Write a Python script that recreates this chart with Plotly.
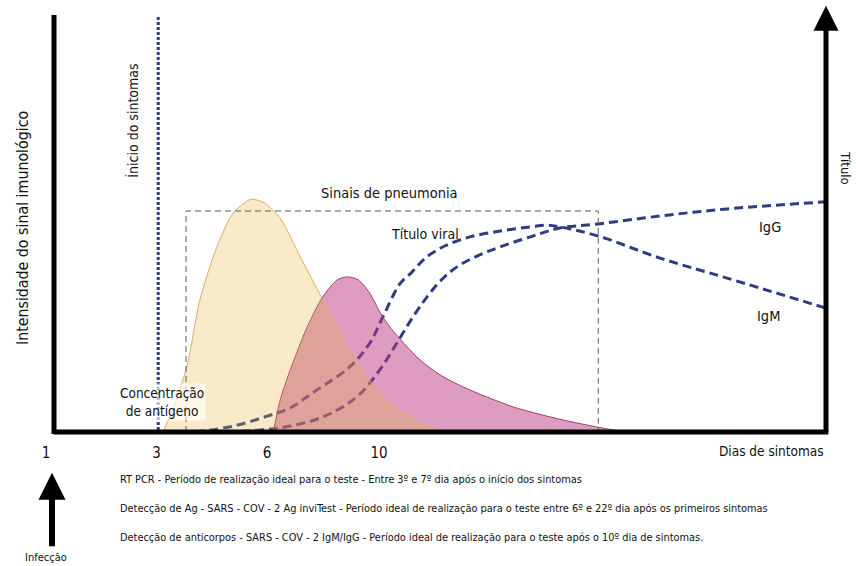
import plotly.graph_objects as go

# ---------------- data (schematic units: x = position along time axis 0..100, y = signal 0..100)
dias_labels = ["1", "3", "6", "10"]

# yellow curve (antigen concentration)
amarela_x = [14.1, 15.3, 17.2, 18.9, 21.1, 23.2, 25.5, 27.3, 29.3, 31.9, 34.7, 38.0, 40.5, 43.5, 47.4, 50.9]
amarela_y = [0.0, 5.0, 15.6, 31.7, 44.4, 52.5, 55.8, 54.9, 51.3, 42.0, 32.1, 20.4, 13.2, 7.0, 2.2, 0.0]

# pink curve (viral title)
rosa_x = [28.4, 29.3, 30.6, 32.8, 34.8, 36.7, 38.0, 39.4, 40.9, 42.2, 43.5, 45.5, 47.4, 50.0, 53.0, 59.5, 65.9, 72.4, 74.6]
rosa_y = [0.0, 7.7, 14.9, 25.2, 32.4, 36.5, 37.2, 36.5, 33.3, 28.8, 25.2, 20.9, 17.3, 13.7, 10.8, 6.0, 2.9, 0.5, 0.0]

# antibody curves
igm_x = [18.3, 23.2, 27.6, 30.6, 33.5, 38.3, 40.9, 42.6, 44.8, 46.4, 48.1, 50.6, 53.9, 57.8, 61.7, 63.9, 65.5, 70.5, 78.5, 87.2, 100.0]
igm_y = [0.0, 1.4, 3.8, 5.8, 9.4, 15.6, 21.3, 27.6, 35.5, 38.4, 41.7, 44.6, 46.8, 48.2, 49.2, 49.6, 49.2, 47.0, 41.7, 36.9, 29.7]
igg_x = [22.4, 26.7, 29.3, 34.8, 39.2, 42.2, 44.4, 46.5, 48.4, 50.3, 52.2, 54.8, 57.8, 61.7, 65.5, 70.5, 78.5, 87.2, 100.0]
igg_y = [0.0, 0.5, 1.0, 3.6, 8.4, 14.9, 21.3, 27.6, 32.6, 36.7, 39.6, 42.2, 44.4, 46.8, 48.9, 49.9, 51.8, 53.5, 55.2]

inicio_sintomas_x = 13.5
pneumonia_box = {"x0": 17.1, "x1": 70.5, "y_top": 53.0}

textos_rodape = [
    "RT PCR - Período de realização ideal para o teste - Entre 3º e 7º dia após o início dos sintomas",
    "Detecção de Ag - SARS - COV - 2 Ag inviTest - Período ideal de realização para o teste entre 6º e 22º dia após os primeiros sintomas",
    "Detecção de anticorpos - SARS - COV - 2 IgM/IgG - Período ideal de realização para o teste após o 10º dia de sintomas.",
]

# ---------------- figure
FONT = "DejaVu Sans Condensed, Liberation Sans Narrow, Liberation Sans, sans-serif"
NAVY = "#2e3d82"
XR = [-1.813, 100.518]
YR = [-0.959, 102.4]


def paper(u, v):
    return (u - XR[0]) / (XR[1] - XR[0]), (v - YR[0]) / (YR[1] - YR[0])


fig = go.Figure()

for xs, ys in [(igm_x, igm_y), (igg_x, igg_y)]:
    fig.add_trace(go.Scatter(x=xs, y=ys, mode="lines",
                             line=dict(color=NAVY, width=3, dash="9px,5px", shape="spline", smoothing=1.0),
                             hoverinfo="skip", showlegend=False))

fig.add_trace(go.Scatter(x=[inicio_sintomas_x, inicio_sintomas_x], y=[0.5, 100], mode="lines",
                         line=dict(color="#2d3b85", width=3, dash="3px,2px"), hoverinfo="skip", showlegend=False))

fig.add_trace(go.Scatter(x=rosa_x, y=rosa_y, mode="lines", fill="tozeroy", fillcolor="rgba(187,57,129,0.5)",
                         line=dict(color="#9c3f66", width=1, shape="spline", smoothing=0.7),
                         hoverinfo="skip", showlegend=False))
fig.add_trace(go.Scatter(x=amarela_x, y=amarela_y, mode="lines", fill="tozeroy", fillcolor="rgba(230,180,59,0.28)",
                         line=dict(color="#d8b063", width=1, shape="spline", smoothing=0.7),
                         hoverinfo="skip", showlegend=False))

# dashed box "Sinais de pneumonia"
fig.add_trace(go.Scatter(x=[pneumonia_box["x0"], pneumonia_box["x0"], pneumonia_box["x1"], pneumonia_box["x1"]],
                         y=[0, pneumonia_box["y_top"], pneumonia_box["y_top"], 0], mode="lines",
                         line=dict(color="#555a70", width=1, dash="6px,4px"), hoverinfo="skip", showlegend=False))

# axes lines
fig.add_shape(type="line", x0=0, x1=100.3, y0=0, y1=0, xref="x", yref="y",
              line=dict(color="black", width=5), layer="above")
fig.add_shape(type="line", x0=0, x1=0, y0=-0.5, y1=100, xref="x", yref="y",
              line=dict(color="black", width=5), layer="above")

annotations = []
# right axis arrow
annotations.append(dict(x=100, y=102.2, ax=100, ay=-0.5, xref="x", yref="y", axref="x", ayref="y",
                        showarrow=True, arrowhead=2, arrowsize=1.0, arrowwidth=5, arrowcolor="black", text=""))
# infection arrow
px_, py_ = paper(-0.26, -9.8)
annotations.append(dict(x=px_, y=py_, ax=0, ay=75, xref="paper", yref="paper",
                        showarrow=True, arrowhead=2, arrowsize=0.9, arrowwidth=6, arrowcolor="black", text=""))


def txt(text, u, v, size, angle=0, xanchor="center", **kw):
    xp, yp = paper(u, v)
    annotations.append(dict(text=text, x=xp, y=yp, xref="paper", yref="paper", showarrow=False, textangle=angle,
                            xanchor=xanchor, yanchor="middle",
                            font=dict(family=FONT, size=size, color="#111"), **kw))


txt("Intensidade do sinal imunológico", -4.15, 48.9, 15.8, angle=-90)
txt("Ínicio do sintomas", 10.2, 74.6, 14, angle=-90)
txt("Título", 102.6, 63.3, 13, angle=90)
txt("Sinais de pneumonia", 43.5, 57.3, 14.5)
txt("Título viral", 48.1, 47.5, 14)
txt("IgG", 92.7, 49.2, 14.5)
txt("IgM", 92.6, 27.8, 14.5)
txt("Concentração<br>de antígeno", 14.0, 7.2, 13.5, bgcolor="rgba(255,255,255,0.65)")
txt("Dias de sintomas", 100.0, -4.56, 13.5, xanchor="right")
for i, t in enumerate(textos_rodape):
    txt(t, 8.3, -11.3 - 6.95 * i, 10.9, xanchor="left")
txt("Infecção", -1.04, -30.0, 11)

tick_positions = [-1.04, 13.3, 27.6, 42.1]

fig.update_layout(
    width=856, height=566,
    margin=dict(l=40, r=26, t=5, b=130),
    paper_bgcolor="white", plot_bgcolor="white",
    showlegend=False, hovermode=False,
    annotations=annotations,
    xaxis=dict(range=XR, showgrid=False, zeroline=False, showline=False,
               tickvals=tick_positions, ticktext=dias_labels, ticks="", ticklabelstandoff=6,
               tickfont=dict(family=FONT, size=15, color="#111"), fixedrange=True),
    yaxis=dict(range=YR, showgrid=False, zeroline=False, showline=False,
               showticklabels=False, ticks="", fixedrange=True),
)

fig.write_html("out.html", config={"displayModeBar": False},
               post_script="document.body.style.margin='0';document.body.style.padding='0';")
